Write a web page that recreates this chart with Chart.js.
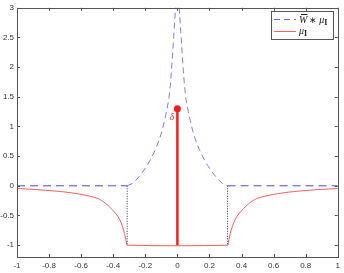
<!DOCTYPE html>
<html>
<head>
<meta charset="utf-8">
<script src="https://cdn.jsdelivr.net/npm/chart.js@4"></script>
<style>
  html, body { margin: 0; padding: 0; background: #fff; }
  #wrap { width: 344px; height: 273px; }
</style>
</head>
<body>
<div id="wrap"><canvas id="chart" width="344" height="273"></canvas></div>
<script>
// Achsen
const xTicks = [-1, -0.8, -0.6, -0.4, -0.2, 0, 0.2, 0.4, 0.6, 0.8, 1];
const yTicks = [-1, -0.5, 0, 0.5, 1, 1.5, 2, 2.5, 3];

// mu_I (rote Kurve)
const muX = [-1, -0.9, -0.8, -0.7, -0.6, -0.5, -0.45, -0.4, -0.37, -0.35, -0.335, -0.325, -0.318, -0.313,
             0.313, 0.318, 0.325, 0.335, 0.35, 0.37, 0.4, 0.45, 0.5, 0.6, 0.7, 0.8, 0.9, 1];
const muY = [-0.045, -0.06, -0.08, -0.105, -0.145, -0.21, -0.29, -0.42, -0.52, -0.63, -0.75, -0.86, -0.95, -1,
             -1, -0.95, -0.86, -0.75, -0.63, -0.52, -0.42, -0.29, -0.21, -0.145, -0.105, -0.08, -0.06, -0.045];

// W * mu_I innen (blau gestrichelt)
const convX = [-0.313, -0.28, -0.251, -0.22, -0.189, -0.16, -0.137, -0.115, -0.096, -0.08, -0.068, -0.054, -0.044, -0.034, -0.023, -0.012, -0.006,
               0.006, 0.012, 0.023, 0.034, 0.044, 0.054, 0.068, 0.08, 0.096, 0.115, 0.137, 0.16, 0.189, 0.22, 0.251, 0.28, 0.313];
const convY = [0, 0.04, 0.116, 0.22, 0.34, 0.48, 0.61, 0.76, 0.92, 1.1, 1.25, 1.45, 1.69, 2.05, 2.52, 2.97, 3.4,
               3.4, 2.97, 2.52, 2.05, 1.69, 1.45, 1.25, 1.1, 0.92, 0.76, 0.61, 0.48, 0.34, 0.22, 0.116, 0.04, 0];

// W * mu_I aussen (null)
const outerX = [-1, -0.313, null, 0.313, 1];
const outerY = [0, 0, null, 0, 0];

// Delta bei 0
const deltaX = [0, 0];
const deltaY = [-1, 1.3];

// Rand des Intervalls (gepunktet)
const edgeX = [-0.313, 0.313];
const edgeY = [0, -1];

const pts = (xs, ys) => xs.map((x, i) => ({ x: x === null ? 0 : x, y: ys[i] }));

const AXIS = '#555';
const TICKFONT = { family: 'Liberation Sans, Arial, sans-serif', size: 8 };

// Ticks nach innen, auf allen vier Seiten (wie MATLAB)
const innerTicks = {
    id: 'innerTicks',
    afterDraw(chart) {
        const { ctx, chartArea: a, scales: { x, y } } = chart;
        ctx.save();
        ctx.strokeStyle = AXIS;
        ctx.lineWidth = 1;
        ctx.beginPath();
        xTicks.forEach(v => {
            const px = Math.round(x.getPixelForValue(v)) + 0.5;
            ctx.moveTo(px, a.bottom); ctx.lineTo(px, a.bottom - 3);
            ctx.moveTo(px, a.top); ctx.lineTo(px, a.top + 3);
        });
        yTicks.forEach(v => {
            const py = Math.round(y.getPixelForValue(v)) + 0.5;
            ctx.moveTo(a.left, py); ctx.lineTo(a.left + 3, py);
            ctx.moveTo(a.right, py); ctx.lineTo(a.right - 3, py);
        });
        ctx.stroke();
        // Rahmen
        ctx.strokeRect(Math.round(a.left) + 0.5, Math.round(a.top) + 0.5,
                       Math.round(a.right - a.left), Math.round(a.bottom - a.top));
        ctx.restore();
    }
};

// delta-Beschriftung und Legende
const annotate = {
    id: 'annotate',
    afterDraw(chart) {
        const { ctx, scales: { x, y } } = chart;
        ctx.save();
        ctx.fillStyle = '#e03030';
        ctx.font = 'italic 10px "Liberation Serif", serif';
        ctx.textAlign = 'center';
        ctx.textBaseline = 'middle';
        ctx.fillText('δ', x.getPixelForValue(-0.034), y.getPixelForValue(1.16));

        // Legende
        const bx = 271.5, by = 11.5, bw = 62, bh = 28;
        ctx.fillStyle = '#fff';
        ctx.fillRect(bx, by, bw, bh);
        ctx.strokeStyle = AXIS;
        ctx.lineWidth = 1;
        ctx.strokeRect(bx, by, bw, bh);

        ctx.lineWidth = 1;
        ctx.strokeStyle = '#6a6aff';
        ctx.setLineDash([6, 4]);
        ctx.beginPath(); ctx.moveTo(274, 19.5); ctx.lineTo(296, 19.5); ctx.stroke();
        ctx.setLineDash([]);
        ctx.strokeStyle = '#ff6060';
        ctx.beginPath(); ctx.moveTo(274, 31.5); ctx.lineTo(296, 31.5); ctx.stroke();

        ctx.fillStyle = '#222';
        ctx.textAlign = 'left';
        ctx.textBaseline = 'alphabetic';
        let cx = 299;
        ctx.font = 'italic 10px "Liberation Serif", serif';
        ctx.fillText('W', cx, 23);
        const ww = ctx.measureText('W').width;
        ctx.strokeStyle = '#222';
        ctx.beginPath(); ctx.moveTo(cx + 2, 14.5); ctx.lineTo(cx + ww, 14.5); ctx.stroke();
        cx += ww + 2;
        ctx.font = '9px "Liberation Serif", serif';
        ctx.fillText('∗', cx, 23);
        cx += ctx.measureText('∗').width + 2;
        ctx.font = 'italic 10px "Liberation Serif", serif';
        ctx.fillText('μ', cx, 23);
        cx += ctx.measureText('μ').width;
        ctx.font = 'bold 8px "Liberation Serif", serif';
        ctx.fillText('I', cx, 25);

        cx = 299;
        ctx.font = 'italic 10px "Liberation Serif", serif';
        ctx.fillText('μ', cx, 34);
        cx += ctx.measureText('μ').width;
        ctx.font = 'bold 8px "Liberation Serif", serif';
        ctx.fillText('I', cx, 36);
        ctx.restore();
    }
};

const config = {
    type: 'scatter',
    data: {
        datasets: [
            { label: 'outer', data: pts(outerX, outerY), showLine: true, spanGaps: false,
              borderColor: '#4a4ad8', borderWidth: 1, borderDash: [8, 5], pointRadius: 0 },
            { label: 'conv', data: pts(convX, convY), showLine: true,
              borderColor: '#7a7aff', borderWidth: 1, borderDash: [6, 4], pointRadius: 0, tension: 0 },
            { label: 'edgeL', data: pts([edgeX[0], edgeX[0]], edgeY), showLine: true,
              borderColor: '#333', borderWidth: 1, borderDash: [1, 1.5], pointRadius: 0 },
            { label: 'edgeR', data: pts([edgeX[1], edgeX[1]], edgeY), showLine: true,
              borderColor: '#333', borderWidth: 1, borderDash: [1, 1.5], pointRadius: 0 },
            { label: 'mu', data: pts(muX, muY), showLine: true,
              borderColor: '#ff5a5a', borderWidth: 1, pointRadius: 0, tension: 0.3 },
            { label: 'delta', data: pts(deltaX, deltaY), showLine: true,
              borderColor: '#ff1a1a', backgroundColor: '#ff1a1a', borderWidth: 2.5,
              pointRadius: [0, 3.5], pointBorderWidth: 0 }
        ]
    },
    options: {
        animation: false,
        responsive: false,
        layout: { padding: { top: 4, right: 5, left: 0, bottom: 0 } },
        plugins: { legend: { display: false }, tooltip: { enabled: false } },
        scales: {
            x: {
                type: 'linear', min: -1, max: 1,
                afterBuildTicks: s => { s.ticks = xTicks.map(v => ({ value: v })); },
                afterFit: s => { s.height = 16; },
                grid: { display: false, drawTicks: false, tickLength: 0 },
                border: { display: false },
                ticks: { font: TICKFONT, color: '#333', padding: 4, maxRotation: 0,
                         callback: v => String(v) }
            },
            y: {
                type: 'linear', min: -1.2, max: 3,
                afterBuildTicks: s => { s.ticks = yTicks.map(v => ({ value: v })); },
                afterFit: s => { s.width = 17; },
                grid: { display: false, drawTicks: false, tickLength: 0 },
                border: { display: false },
                ticks: { font: TICKFONT, color: '#333', padding: 3,
                         callback: v => String(v) }
            }
        }
    },
    plugins: [innerTicks, annotate]
};

new Chart(document.getElementById('chart'), config);
</script>
</body>
</html>
